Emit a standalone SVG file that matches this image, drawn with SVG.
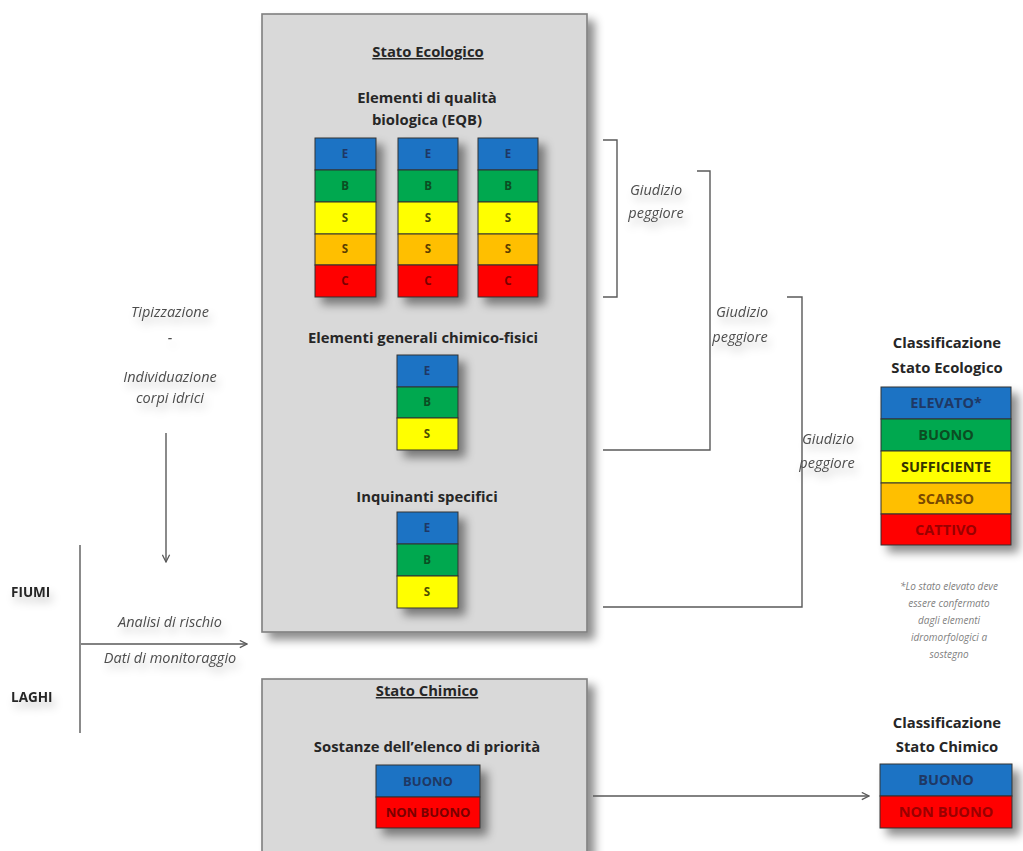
<svg xmlns="http://www.w3.org/2000/svg" width="1023" height="851" viewBox="0 0 1023 851">
<defs>
<filter id="sh" x="-20%" y="-20%" width="150%" height="150%">
<feDropShadow dx="7" dy="7" stdDeviation="5" flood-color="#000" flood-opacity="0.45"/>
</filter>
<filter id="tsh" x="-30%" y="-50%" width="160%" height="250%">
<feDropShadow dx="3" dy="6" stdDeviation="4" flood-color="#000" flood-opacity="0.22"/>
</filter>
<marker id="arr" viewBox="0 0 10 10" refX="9" refY="5" markerWidth="9" markerHeight="9" orient="auto" markerUnits="userSpaceOnUse">
<path d="M1,1 L9,5 L1,9" fill="none" stroke="#595959" stroke-width="1.4"/>
</marker>
</defs>
<style>
.box{fill:#d9d9d9;stroke:#7f7f7f;stroke-width:1.6}
.t{font-family:"Open Sans",Lato,sans-serif;font-weight:bold;fill:#262626;text-anchor:middle}
.h{font-size:14.8px}
.u{text-decoration:underline}
.i{font-family:"Open Sans",Lato,sans-serif;font-style:italic;fill:#4d4d4d;font-size:14.5px;text-anchor:middle}
.c{font-family:"Open Sans",Lato,sans-serif;font-weight:bold;font-size:11.5px;text-anchor:middle}
.cl{font-family:"Open Sans",Lato,sans-serif;font-weight:bold;font-size:14.5px;text-anchor:middle}
.bl{fill:#1f73c4;stroke:#333;stroke-width:1}
.gr{fill:#00a84f;stroke:#333;stroke-width:1}
.ye{fill:#ffff00;stroke:#333;stroke-width:1}
.or{fill:#ffbf00;stroke:#333;stroke-width:1}
.rd{fill:#ff0000;stroke:#333;stroke-width:1}
.ln{fill:none;stroke:#595959;stroke-width:1.4}
.fn{font-family:"Open Sans",Lato,sans-serif;font-style:italic;fill:#7f7f7f;font-size:10px;text-anchor:middle}
</style>
<rect width="1023" height="851" fill="#ffffff"/>

<g id="stato-ecologico">
<rect class="box" x="262" y="14" width="325" height="618" filter="url(#sh)"/>
<text class="t h u" x="428" y="57">Stato Ecologico</text>
<text class="t h" x="427" y="103">Elementi di qualità</text>
<text class="t h" x="427" y="125">biologica (EQB)</text>
</g>

<g id="eqb-1" filter="url(#sh)">
<rect class="bl" x="315" y="138" width="61" height="32"/>
<rect class="gr" x="315" y="170" width="61" height="32"/>
<rect class="ye" x="315" y="202" width="61" height="32"/>
<rect class="or" x="315" y="234" width="61" height="31"/>
<rect class="rd" x="315" y="265" width="61" height="32"/>
</g>
<g id="eqb-2" filter="url(#sh)">
<rect class="bl" x="398" y="138" width="60" height="32"/>
<rect class="gr" x="398" y="170" width="60" height="32"/>
<rect class="ye" x="398" y="202" width="60" height="32"/>
<rect class="or" x="398" y="234" width="60" height="31"/>
<rect class="rd" x="398" y="265" width="60" height="32"/>
</g>
<g id="eqb-3" filter="url(#sh)">
<rect class="bl" x="478" y="138" width="60" height="32"/>
<rect class="gr" x="478" y="170" width="60" height="32"/>
<rect class="ye" x="478" y="202" width="60" height="32"/>
<rect class="or" x="478" y="234" width="60" height="31"/>
<rect class="rd" x="478" y="265" width="60" height="32"/>
</g>
<g id="eqb-letters">
<text class="c" x="345" y="158" fill="#1f3864">E</text>
<text class="c" x="345" y="190" fill="#0b4d22">B</text>
<text class="c" x="345" y="222" fill="#4d4d00">S</text>
<text class="c" x="345" y="253" fill="#5a3d00">S</text>
<text class="c" x="345" y="285" fill="#7a0000">C</text>
<text class="c" x="428" y="158" fill="#1f3864">E</text>
<text class="c" x="428" y="190" fill="#0b4d22">B</text>
<text class="c" x="428" y="222" fill="#4d4d00">S</text>
<text class="c" x="428" y="253" fill="#5a3d00">S</text>
<text class="c" x="428" y="285" fill="#7a0000">C</text>
<text class="c" x="508" y="158" fill="#1f3864">E</text>
<text class="c" x="508" y="190" fill="#0b4d22">B</text>
<text class="c" x="508" y="222" fill="#4d4d00">S</text>
<text class="c" x="508" y="253" fill="#5a3d00">S</text>
<text class="c" x="508" y="285" fill="#7a0000">C</text>
</g>

<g id="chimico-fisici">
<text class="t h" x="423" y="343">Elementi generali chimico-fisici</text>
<g filter="url(#sh)">
<rect class="bl" x="397" y="355" width="61" height="32"/>
<rect class="gr" x="397" y="387" width="61" height="31"/>
<rect class="ye" x="397" y="418" width="61" height="32"/>
</g>
<text class="c" x="427" y="375" fill="#1f3864">E</text>
<text class="c" x="427" y="406" fill="#0b4d22">B</text>
<text class="c" x="427" y="438" fill="#4d4d00">S</text>
</g>

<g id="inquinanti">
<text class="t h" x="427" y="502">Inquinanti specifici</text>
<g filter="url(#sh)">
<rect class="bl" x="397" y="512" width="61" height="32"/>
<rect class="gr" x="397" y="544" width="61" height="32"/>
<rect class="ye" x="397" y="576" width="61" height="32"/>
</g>
<text class="c" x="427" y="532" fill="#1f3864">E</text>
<text class="c" x="427" y="564" fill="#0b4d22">B</text>
<text class="c" x="427" y="596" fill="#4d4d00">S</text>
</g>

<g id="stato-chimico">
<rect class="box" x="262" y="679" width="325" height="190" filter="url(#sh)"/>
<text class="t h u" x="427" y="696">Stato Chimico</text>
<text class="t h" x="427" y="752">Sostanze dell’elenco di priorità</text>
<g filter="url(#sh)">
<rect class="bl" x="376" y="765" width="104" height="32"/>
<rect class="rd" x="376" y="797" width="104" height="31"/>
</g>
<text class="cl" x="428" y="786" fill="#1f3864" style="font-size:13px">BUONO</text>
<text class="cl" x="428" y="817" fill="#7a0000" style="font-size:13px">NON BUONO</text>
</g>

<g id="class-ecologico">
<text class="t h" x="947" y="348">Classificazione</text>
<text class="t h" x="947" y="373">Stato Ecologico</text>
<g filter="url(#sh)">
<rect class="bl" x="881" y="387" width="130" height="32"/>
<rect class="gr" x="881" y="419" width="130" height="32"/>
<rect class="ye" x="881" y="451" width="130" height="32"/>
<rect class="or" x="881" y="483" width="130" height="31"/>
<rect class="rd" x="881" y="514" width="130" height="31"/>
</g>
<text class="cl" x="946" y="408" fill="#1f3864">ELEVATO*</text>
<text class="cl" x="946" y="440" fill="#0b4d22">BUONO</text>
<text class="cl" x="946" y="472" fill="#333300">SUFFICIENTE</text>
<text class="cl" x="946" y="504" fill="#7a4a00">SCARSO</text>
<text class="cl" x="946" y="535" fill="#9a0000">CATTIVO</text>
<text class="fn" x="949" y="590">*Lo stato elevato deve</text>
<text class="fn" x="949" y="607">essere confermato</text>
<text class="fn" x="949" y="624">dagli elementi</text>
<text class="fn" x="949" y="641">idromorfologici a</text>
<text class="fn" x="949" y="658">sostegno</text>
</g>

<g id="class-chimico">
<text class="t h" x="947" y="728">Classificazione</text>
<text class="t h" x="947" y="752">Stato Chimico</text>
<g filter="url(#sh)">
<rect class="bl" x="880" y="764" width="132" height="32"/>
<rect class="rd" x="880" y="796" width="132" height="32"/>
</g>
<text class="cl" x="946" y="785" fill="#1f3864">BUONO</text>
<text class="cl" x="946" y="817" fill="#9a0000">NON BUONO</text>
</g>

<g id="left-labels">
<g filter="url(#tsh)">
<text class="i" x="170" y="317">Tipizzazione</text>
<text class="i" x="170" y="343">-</text>
<text class="i" x="170" y="382">Individuazione</text>
<text class="i" x="170" y="403">corpi idrici</text>
<text class="t" x="11" y="597" style="font-size:13.5px;text-anchor:start">FIUMI</text>
<text class="t" x="11" y="702" style="font-size:13.5px;text-anchor:start">LAGHI</text>
<text class="i" x="170" y="627">Analisi di rischio</text>
<text class="i" x="170" y="663">Dati di monitoraggio</text>
</g>
</g>

<g id="giudizio-labels" filter="url(#tsh)">
<text class="i" x="656" y="195">Giudizio</text>
<text class="i" x="656" y="218">peggiore</text>
<text class="i" x="742" y="317">Giudizio</text>
<text class="i" x="740" y="342">peggiore</text>
<text class="i" x="828" y="444">Giudizio</text>
<text class="i" x="827" y="468">peggiore</text>
</g>

<g id="connectors">
<path class="ln" d="M603,140 H617 V297 H603"/>
<path class="ln" d="M697,171 H710 V450 H603"/>
<path class="ln" d="M787,297 H802 V607 H603"/>
<line class="ln" x1="166" y1="433" x2="166" y2="562" marker-end="url(#arr)"/>
<line class="ln" x1="80" y1="545" x2="80" y2="733"/>
<line class="ln" x1="81" y1="644" x2="247" y2="644" marker-end="url(#arr)"/>
<line class="ln" x1="593" y1="796" x2="869" y2="796" marker-end="url(#arr)"/>
</g>
</svg>
